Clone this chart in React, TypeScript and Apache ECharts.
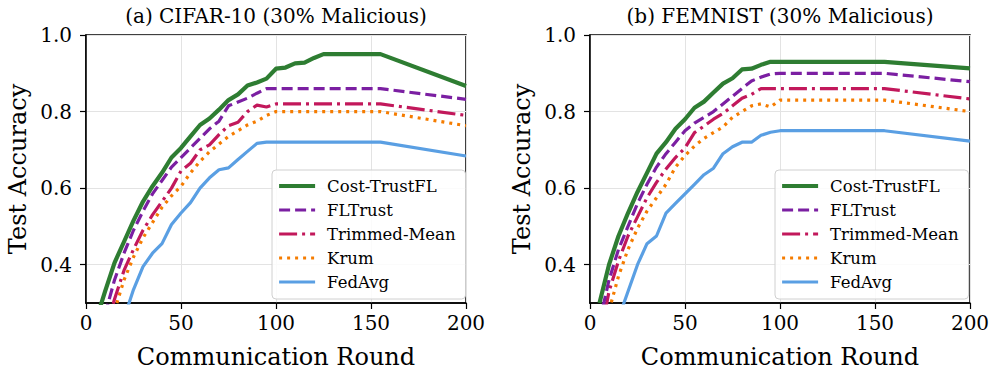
import React, { useEffect, useRef } from "react";
import * as echarts from "echarts";

const ROUNDS = [5, 10, 15, 20, 25, 30, 35, 40, 45, 50, 55, 60, 65, 70, 75, 80, 85, 90, 95, 100, 105, 110, 115, 120, 125, 130, 135, 140, 145, 150, 155, 200];

const SERIES_NAMES = ["Cost-TrustFL", "FLTrust", "Trimmed-Mean", "Krum", "FedAvg"];

// (a) CIFAR-10
const CIFAR_COST = [0.25, 0.33, 0.405, 0.46, 0.515, 0.565, 0.605, 0.64, 0.68, 0.705, 0.735, 0.765, 0.782, 0.805, 0.83, 0.845, 0.868, 0.876, 0.886, 0.912, 0.915, 0.926, 0.928, 0.94, 0.95, 0.95, 0.95, 0.95, 0.95, 0.95, 0.95, 0.867];
const CIFAR_FLTRUST = [null, 0.27, 0.36, 0.43, 0.49, 0.54, 0.585, 0.62, 0.655, 0.68, 0.705, 0.73, 0.755, 0.775, 0.815, 0.825, 0.835, 0.848, 0.86, 0.86, 0.86, 0.86, 0.86, 0.86, 0.86, 0.86, 0.86, 0.86, 0.86, 0.86, 0.86, 0.832];
const CIFAR_TRIMMED = [null, 0.22, 0.31, 0.385, 0.44, 0.49, 0.53, 0.565, 0.6, 0.645, 0.665, 0.7, 0.713, 0.74, 0.763, 0.772, 0.8, 0.817, 0.812, 0.82, 0.82, 0.82, 0.82, 0.82, 0.82, 0.82, 0.82, 0.82, 0.82, 0.82, 0.82, 0.79];
const CIFAR_KRUM = [null, 0.2, 0.28, 0.36, 0.42, 0.47, 0.51, 0.55, 0.58, 0.605, 0.64, 0.67, 0.695, 0.715, 0.735, 0.75, 0.765, 0.775, 0.79, 0.8, 0.8, 0.8, 0.8, 0.8, 0.8, 0.8, 0.8, 0.8, 0.8, 0.8, 0.8, 0.763];
const CIFAR_FEDAVG = [null, null, null, 0.26, 0.335, 0.395, 0.43, 0.455, 0.505, 0.535, 0.562, 0.6, 0.627, 0.648, 0.653, 0.675, 0.696, 0.717, 0.72, 0.72, 0.72, 0.72, 0.72, 0.72, 0.72, 0.72, 0.72, 0.72, 0.72, 0.72, 0.72, 0.684];

// (b) FEMNIST
const FEMNIST_COST = [0.3, 0.4, 0.475, 0.535, 0.59, 0.64, 0.69, 0.72, 0.755, 0.78, 0.81, 0.826, 0.85, 0.873, 0.887, 0.91, 0.912, 0.922, 0.93, 0.93, 0.93, 0.93, 0.93, 0.93, 0.93, 0.93, 0.93, 0.93, 0.93, 0.93, 0.93, 0.913];
const FEMNIST_FLTRUST = [0.25, 0.36, 0.44, 0.5, 0.56, 0.61, 0.655, 0.69, 0.72, 0.75, 0.77, 0.785, 0.8, 0.82, 0.84, 0.86, 0.88, 0.89, 0.898, 0.9, 0.9, 0.9, 0.9, 0.9, 0.9, 0.9, 0.9, 0.9, 0.9, 0.9, 0.9, 0.878];
const FEMNIST_TRIMMED = [0.2, 0.33, 0.41, 0.475, 0.525, 0.575, 0.615, 0.65, 0.68, 0.705, 0.745, 0.762, 0.78, 0.795, 0.815, 0.835, 0.845, 0.86, 0.86, 0.86, 0.86, 0.86, 0.86, 0.86, 0.86, 0.86, 0.86, 0.86, 0.86, 0.86, 0.86, 0.833];
const FEMNIST_KRUM = [0.18, 0.28, 0.37, 0.44, 0.495, 0.54, 0.575, 0.61, 0.655, 0.685, 0.71, 0.73, 0.745, 0.76, 0.785, 0.8, 0.815, 0.82, 0.812, 0.83, 0.83, 0.83, 0.83, 0.83, 0.83, 0.83, 0.83, 0.83, 0.83, 0.83, 0.83, 0.8];
const FEMNIST_FEDAVG = [null, null, 0.26, 0.33, 0.4, 0.455, 0.475, 0.535, 0.56, 0.585, 0.61, 0.635, 0.652, 0.69, 0.708, 0.72, 0.72, 0.738, 0.746, 0.75, 0.75, 0.75, 0.75, 0.75, 0.75, 0.75, 0.75, 0.75, 0.75, 0.75, 0.75, 0.723];

const X_TICKS = [0, 50, 100, 150, 200];
const Y_TICKS = [0.4, 0.6, 0.8, 1.0];

const TITLES = ["(a) CIFAR-10 (30% Malicious)", "(b) FEMNIST (30% Malicious)"];
const X_NAME = "Communication Round";
const Y_NAME = "Test Accuracy";

const PANELS = [
  [CIFAR_COST, CIFAR_FLTRUST, CIFAR_TRIMMED, CIFAR_KRUM, CIFAR_FEDAVG],
  [FEMNIST_COST, FEMNIST_FLTRUST, FEMNIST_TRIMMED, FEMNIST_KRUM, FEMNIST_FEDAVG],
];

const COLORS = ["#2e7d32", "#7b1fa2", "#c2185b", "#f57c00", "#5a9fe3"];
const WIDTHS = [4.2, 3.2, 3.2, 3.2, 3.2];
const DASHES: any[] = ["solid", [11, 5], [18, 5, 3, 5], [3, 5], "solid"];

const FONT = "DejaVu Serif";
const GRID_LEFTS = [86, 590];
const GRID_TOP = 35;
const GRID_W = 380;
const GRID_H = 268;

export default function App() {
  const ref = useRef<HTMLDivElement>(null);
  useEffect(() => {
    if (!ref.current) return;
    const chart = echarts.init(ref.current, undefined, { renderer: "svg" });

    const grid = GRID_LEFTS.map((l) => ({
      left: l,
      top: GRID_TOP,
      width: GRID_W,
      height: GRID_H,
      show: true,
      borderColor: "#000",
      borderWidth: 1.5,
      backgroundColor: "transparent",
      z: 0,
    }));

    const xAxis = GRID_LEFTS.map((_, i) => ({
      type: "value",
      gridIndex: i,
      min: X_TICKS[0],
      max: X_TICKS[X_TICKS.length - 1],
      interval: X_TICKS[1] - X_TICKS[0],
      name: X_NAME,
      nameLocation: "middle",
      nameGap: 42,
      nameTextStyle: { fontFamily: FONT, fontSize: 24, color: "#000" },
      axisLine: { show: true, onZero: false, lineStyle: { color: "#000", width: 1.5 } },
      axisTick: { show: true, inside: false, length: 6, lineStyle: { color: "#000", width: 1.2 } },
      axisLabel: { fontFamily: FONT, fontSize: 20, color: "#000", margin: 10 },
      splitLine: { show: true, lineStyle: { color: "#e3e3e3", width: 1 } },
    }));

    const yAxis = GRID_LEFTS.map((_, i) => ({
      type: "value",
      gridIndex: i,
      min: 0.3,
      max: 1.0,
      name: Y_NAME,
      nameLocation: "middle",
      nameGap: 56,
      nameTextStyle: { fontFamily: FONT, fontSize: 24, color: "#000" },
      axisLine: { show: true, lineStyle: { color: "#000", width: 1.5 } },
      axisTick: { show: true, inside: false, length: 6, customValues: Y_TICKS, lineStyle: { color: "#000", width: 1.2 } },
      axisLabel: {
        fontFamily: FONT,
        fontSize: 20,
        color: "#000",
        margin: 14,
        customValues: Y_TICKS,
        formatter: (v: number) => v.toFixed(1),
      },
      splitLine: { show: true, lineStyle: { color: "#e3e3e3", width: 1 } },
    }));

    const series: any[] = [];
    PANELS.forEach((panel, p) => {
      panel.forEach((vals, k) => {
        series.push({
          type: "line",
          name: SERIES_NAMES[k],
          xAxisIndex: p,
          yAxisIndex: p,
          data: ROUNDS.map((r, j) => [r, vals[j]]),
          symbol: "none",
          showSymbol: false,
          clip: true,
          z: 10 - k,
          lineStyle: { color: COLORS[k], width: WIDTHS[k], type: DASHES[k], cap: "butt", join: "round" },
          itemStyle: { color: COLORS[k] },
        });
      });
    });

    const legendLefts = [272, 775];
    const legend = legendLefts.map((l) => ({
      orient: "vertical",
      left: l,
      top: 170,
      width: 186,
      itemWidth: 36,
      itemHeight: 14,
      itemGap: 4,
      padding: [6, 10, 7, 5],
      backgroundColor: "rgba(255,255,255,0.85)",
      borderColor: "#d0d0d0",
      borderWidth: 1,
      borderRadius: 4,
      selectedMode: false,
      itemStyle: { opacity: 0 },
      lineStyle: { width: "inherit" },
      data: SERIES_NAMES,
      textStyle: { fontFamily: FONT, fontSize: 16.5, color: "#000", lineHeight: 20, padding: [0, 0, 0, 7] },
    }));

    const graphic = TITLES.map((t, i) => ({
      type: "text",
      x: GRID_LEFTS[i] + GRID_W / 2,
      y: 16,
      style: {
        text: t,
        fontFamily: FONT,
        fontSize: 20,
        fill: "#000",
        align: "center",
        verticalAlign: "middle",
        textAlign: "center",
        textVerticalAlign: "middle",
      },
    }));

    chart.setOption({
      animation: false,
      backgroundColor: "#fff",
      grid,
      xAxis,
      yAxis,
      series,
      legend,
      graphic,
    } as any);

    return () => chart.dispose();
  }, []);

  return (
    <div style={{ position: "fixed", left: 0, top: 0, width: 997, height: 377, background: "#fff" }}>
      <div ref={ref} style={{ width: 997, height: 377 }} />
    </div>
  );
}
